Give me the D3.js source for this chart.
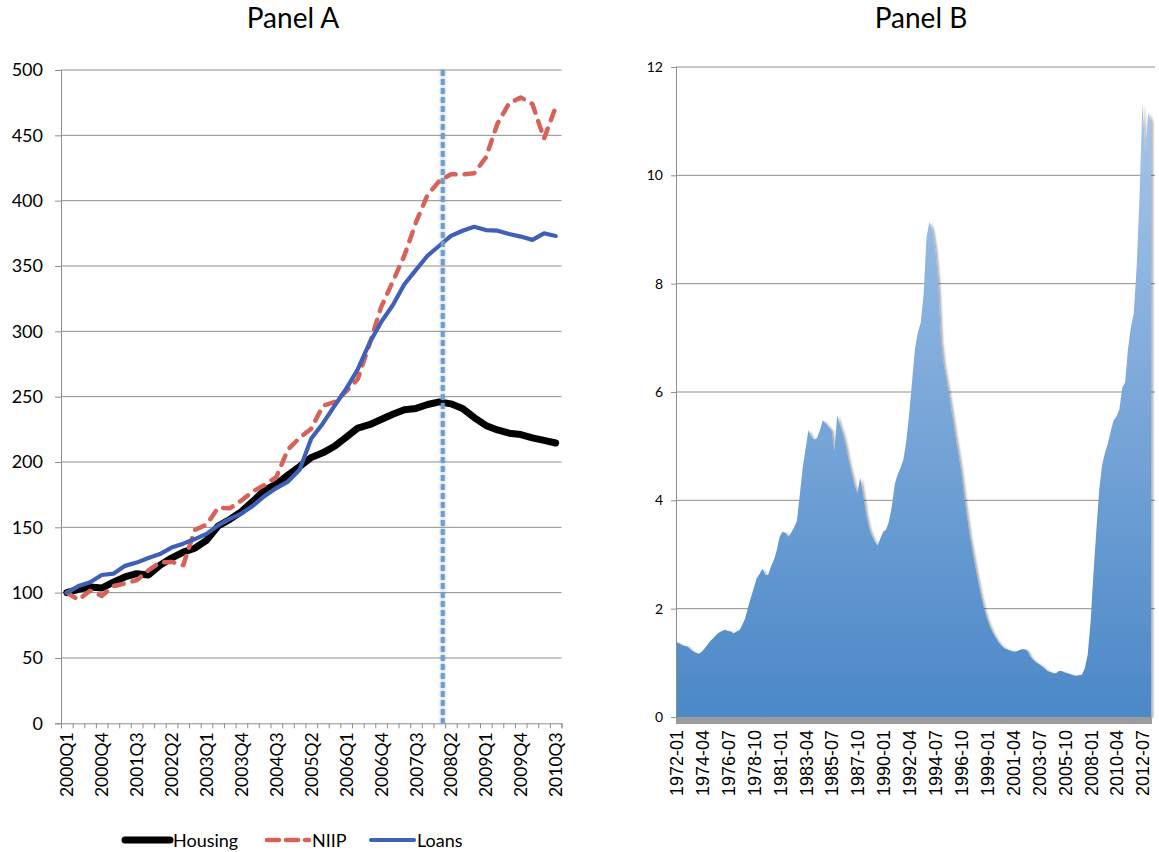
<!DOCTYPE html>
<html>
<head>
<meta charset="utf-8">
<script src="https://cdn.jsdelivr.net/npm/d3@7"></script>
<style>
  html, body { margin: 0; padding: 0; background: #fff; }
  svg { display: block; }
</style>
</head>
<body>
<svg id="chart" width="1159" height="852"></svg>
<script>
// ---------- Panel A: quarterly indices, 2000Q1 = 100 ----------
const quarters = [
  "2000Q1","2000Q2","2000Q3","2000Q4","2001Q1","2001Q2","2001Q3","2001Q4",
  "2002Q1","2002Q2","2002Q3","2002Q4","2003Q1","2003Q2","2003Q3","2003Q4",
  "2004Q1","2004Q2","2004Q3","2004Q4","2005Q1","2005Q2","2005Q3","2005Q4",
  "2006Q1","2006Q2","2006Q3","2006Q4","2007Q1","2007Q2","2007Q3","2007Q4",
  "2008Q1","2008Q2","2008Q3","2008Q4","2009Q1","2009Q2","2009Q3","2009Q4",
  "2010Q1","2010Q2","2010Q3"
];
const quarterTickLabels = [
  "2000Q1","2000Q4","2001Q3","2002Q2","2003Q1","2003Q4","2004Q3","2005Q2",
  "2006Q1","2006Q4","2007Q3","2008Q2","2009Q1","2009Q4","2010Q3"
];
const housing = [
  100, 102.5, 104.3, 103.5, 108, 112, 114.5, 113.5, 121, 126.5, 131, 134,
  140, 151, 156, 162, 170, 178.5, 183, 190, 196.5, 203.5, 207, 212,
  219, 226, 228.5, 232.5, 236.5, 240, 241, 244, 246, 244.5, 241, 234,
  228, 224.5, 222, 221, 218.5, 216.5, 214.5
];
const niip = [
  100, 94.5, 101.5, 97.5, 105, 107, 109.5, 117, 123, 123.5, 121, 148,
  152, 165, 164.5, 170.5, 177.5, 182.5, 188.5, 209.5, 218.5, 225.5, 243, 246,
  254, 263.5, 290, 318.5, 338, 358, 383.5, 404.5, 415, 420.2, 420, 421,
  433, 459, 474.5, 479, 474, 447.5, 471.5
];
const loans = [
  100, 105, 108, 113.5, 114.5, 120.5, 123, 126.5, 129.5, 134.5, 137.5, 141,
  145, 151.5, 156.5, 160.5, 166.5, 174, 180, 185, 194, 218, 229.5, 243,
  256, 271, 291, 307, 320, 336, 347, 358, 365.5, 373, 377, 380,
  377.5, 377, 374.5, 372.5, 370, 375, 373
];
const panelAYTicks = [0, 50, 100, 150, 200, 250, 300, 350, 400, 450, 500];
// vertical marker, in quarters counted from 2000Q1
const markerQuarter = 32.3;

// ---------- Panel B: series sampled every 3 months from 1972-01 ----------
const panelBStartYear = 1972;
const panelBMonthStep = 3;
const panelBMonthCount = 497;
const panelBValues = [
  1.39, 1.36, 1.33, 1.31, 1.30, 1.25, 1.21, 1.18, 1.17, 1.21, 1.27, 1.34,
  1.41, 1.46, 1.52, 1.56, 1.59, 1.61, 1.59, 1.58, 1.54, 1.58, 1.60, 1.70,
  1.82, 2.02, 2.20, 2.38, 2.56, 2.64, 2.74, 2.62, 2.62, 2.78, 2.90, 3.08,
  3.33, 3.42, 3.40, 3.33, 3.40, 3.50, 3.62, 4.10, 4.60, 4.95, 5.30, 5.18,
  5.12, 5.15, 5.30, 5.48, 5.42, 5.36, 5.30, 4.90, 5.57, 5.38, 5.22, 5.00,
  4.72, 4.50, 4.28, 4.13, 4.42, 4.10, 3.75, 3.50, 3.35, 3.24, 3.16, 3.30,
  3.42, 3.46, 3.62, 3.90, 4.30, 4.48, 4.60, 4.76, 5.10, 5.60, 6.20, 6.80,
  7.10, 7.28, 7.80, 8.85, 9.14, 8.99, 8.65, 8.05, 6.95, 6.50, 6.20, 5.90,
  5.55, 5.20, 4.88, 4.55, 4.12, 3.72, 3.35, 3.05, 2.75, 2.48, 2.22, 2.00,
  1.82, 1.67, 1.56, 1.47, 1.38, 1.32, 1.27, 1.25, 1.23, 1.21, 1.21, 1.23,
  1.25, 1.25, 1.23, 1.12, 1.06, 1.01, 0.98, 0.94, 0.90, 0.85, 0.83, 0.81,
  0.81, 0.85, 0.85, 0.82, 0.81, 0.79, 0.77, 0.76, 0.77, 0.78, 0.90, 1.15,
  1.75, 2.65, 3.45, 4.20, 4.65, 4.88, 5.05, 5.28, 5.48, 5.55, 5.68, 6.08,
  6.18, 6.80, 7.20, 7.45, 8.30, 9.60, 11.33, 10.45, 11.15, 11.00
];
const panelBYTicks = [0, 2, 4, 6, 8, 10, 12];
const panelBTickLabels = [
  "1972-01","1974-04","1976-07","1978-10","1981-01","1983-04","1985-07",
  "1987-10","1990-01","1992-04","1994-07","1996-10","1999-01","2001-04",
  "2003-07","2005-10","2008-01","2010-04","2012-07"
];

// ---------- shared styling ----------
const labelFont = "Lato, 'Open Sans', sans-serif";
const gridColor = "#8e8e8e";
const colors = { housing: "#000000", niip: "#d6625a", loans: "#4060b8", marker: "#6ca0d4" };

const svg = d3.select("#chart");
const defs = svg.append("defs");

// soft halo for the vertical marker (user-space region: the line has no width)
const glow = defs.append("filter").attr("id", "markerGlow")
  .attr("filterUnits", "userSpaceOnUse")
  .attr("x", 420).attr("y", 60).attr("width", 50).attr("height", 680);
glow.append("feGaussianBlur").attr("in", "SourceAlpha").attr("stdDeviation", 1.8).attr("result", "b");
glow.append("feFlood").attr("flood-color", "#777").attr("flood-opacity", 0.6);
glow.append("feComposite").attr("in2", "b").attr("operator", "in").attr("result", "s");
const gm = glow.append("feMerge");
gm.append("feMergeNode").attr("in", "s");
gm.append("feMergeNode").attr("in", "SourceGraphic");

// ================= Panel A =================
const A = { left: 61, right: 561.5, top: 70, bottom: 723.3 };
const xA = d3.scaleLinear().domain([-0.5, quarters.length - 0.5]).range([A.left, A.right]);
const yA = d3.scaleLinear().domain([0, 500]).range([A.bottom, A.top]);
const gA = svg.append("g");

gA.append("text").attr("x", 293).attr("y", 21)
  .attr("text-anchor", "middle").attr("dominant-baseline", "middle")
  .style("font-family", labelFont).style("font-size", "28px").text("Panel A");

// gridlines
gA.append("g").selectAll("line").data(panelAYTicks.filter(v => v > 0)).join("line")
  .attr("x1", A.left).attr("x2", A.right)
  .attr("y1", d => yA(d)).attr("y2", d => yA(d))
  .attr("stroke", gridColor).attr("stroke-width", 1);

// y axis
const yAxisA = gA.append("g").attr("transform", `translate(${A.left},0)`)
  .call(d3.axisLeft(yA).tickValues(panelAYTicks).tickSize(6).tickPadding(12).tickFormat(d3.format("d")));
yAxisA.select(".domain").attr("stroke", gridColor);
yAxisA.selectAll(".tick line").attr("stroke", gridColor);
yAxisA.selectAll(".tick text").style("font-family", labelFont).style("font-size", "18px").attr("fill", "#000");

// x axis: a tick at every category boundary
const boundaries = d3.range(quarters.length + 1).map(i => i - 0.5);
const xAxisA = gA.append("g").attr("transform", `translate(0,${A.bottom})`)
  .call(d3.axisBottom(xA).tickValues(boundaries).tickSize(5).tickFormat(""));
xAxisA.select(".domain").attr("stroke", gridColor);
xAxisA.selectAll(".tick line").attr("stroke", gridColor);

gA.append("g").selectAll("text").data(quarterTickLabels).join("text")
  .attr("transform", d => `translate(${xA(quarters.indexOf(d))},${A.bottom + 9}) rotate(-90)`)
  .attr("text-anchor", "end").attr("dominant-baseline", "central")
  .style("font-family", labelFont).style("font-size", "17.5px").text(d => d);

// series
const lineA = d3.line().x((d, i) => xA(i)).y(d => yA(d));
const seriesA = [
  { name: "Housing", values: housing, color: colors.housing, width: 7, dash: null },
  { name: "NIIP", values: niip, color: colors.niip, width: 4.5, dash: "10,9" },
  { name: "Loans", values: loans, color: colors.loans, width: 4.2, dash: null }
];
seriesA.forEach(s => {
  gA.append("path").datum(s.values).attr("d", lineA)
    .attr("fill", "none").attr("stroke", s.color).attr("stroke-width", s.width)
    .attr("stroke-linejoin", "round").attr("stroke-linecap", "round")
    .attr("stroke-dasharray", s.dash);
});

// vertical marker
gA.append("line")
  .attr("x1", xA(markerQuarter)).attr("x2", xA(markerQuarter))
  .attr("y1", A.top).attr("y2", A.bottom)
  .attr("stroke", colors.marker).attr("stroke-width", 4)
  .attr("stroke-dasharray", "6,3").attr("filter", "url(#markerGlow)");

// legend
const legendA = gA.append("g").attr("transform", "translate(0,840)");
const legendItems = [
  { s: seriesA[0], x0: 125, x1: 170 },
  { s: seriesA[1], x0: 267, x1: 309 },
  { s: seriesA[2], x0: 371, x1: 414 }
];
legendItems.forEach(it => {
  legendA.append("line").attr("x1", it.x0).attr("x2", it.x1).attr("y1", 0).attr("y2", 0)
    .attr("stroke", it.s.color).attr("stroke-width", it.s.width)
    .attr("stroke-linecap", "round").attr("stroke-dasharray", it.s.dash ? "12,7" : null);
  legendA.append("text").attr("x", it.x1 + 3).attr("y", 0).attr("dominant-baseline", "central")
    .style("font-family", labelFont).style("font-size", "18px").text(it.s.name);
});

// ================= Panel B =================
const B = { left: 676, right: 1152, gridRight: 1155, top: 67, bottom: 717 };
const xB = d3.scaleLinear().domain([0, panelBMonthCount - 1]).range([B.left, B.right]);
const yB = d3.scaleLinear().domain([0, 12]).range([B.bottom, B.top]);
const gB = svg.append("g");

gB.append("text").attr("x", 921).attr("y", 21)
  .attr("text-anchor", "middle").attr("dominant-baseline", "middle")
  .style("font-family", labelFont).style("font-size", "28px").text("Panel B");

const grad = defs.append("linearGradient").attr("id", "areaFill")
  .attr("gradientUnits", "userSpaceOnUse")
  .attr("x1", 0).attr("x2", 0).attr("y1", yB(12)).attr("y2", yB(0));
grad.append("stop").attr("offset", "0%").attr("stop-color", "#adc9ec");
grad.append("stop").attr("offset", "100%").attr("stop-color", "#4b88c7");

const shadow = defs.append("filter").attr("id", "areaShadow")
  .attr("x", "-5%").attr("y", "-5%").attr("width", "110%").attr("height", "110%");
shadow.append("feDropShadow").attr("dx", 2).attr("dy", 1).attr("stdDeviation", 1.2)
  .attr("flood-color", "#000").attr("flood-opacity", 0.35);

// gridlines
gB.append("g").selectAll("line").data(panelBYTicks.filter(v => v > 0)).join("line")
  .attr("x1", B.left).attr("x2", B.gridRight)
  .attr("y1", d => yB(d)).attr("y2", d => yB(d))
  .attr("stroke", gridColor).attr("stroke-width", 1);

// area
const areaB = d3.area()
  .x((d, i) => xB(i * panelBMonthStep))
  .y0(yB(0)).y1(d => yB(d));
gB.append("path").datum(panelBValues).attr("d", areaB)
  .attr("fill", "url(#areaFill)").attr("filter", "url(#areaShadow)");

// grey base strip beneath the area
gB.append("rect").attr("x", B.left).attr("y", yB(0))
  .attr("width", B.right - B.left).attr("height", 7).attr("fill", "#9b9b9b");

// y axis
const yAxisB = gB.append("g").attr("transform", `translate(${B.left},0)`)
  .call(d3.axisLeft(yB).tickValues(panelBYTicks).tickSize(5).tickPadding(8));
yAxisB.select(".domain").attr("stroke", gridColor);
yAxisB.selectAll(".tick line").attr("stroke", gridColor);
yAxisB.selectAll(".tick text").style("font-family", labelFont).style("font-size", "14px").attr("fill", "#000");

// x labels
const monthIndex = s => (+s.slice(0, 4) - panelBStartYear) * 12 + (+s.slice(5, 7) - 1);
gB.append("g").selectAll("text").data(panelBTickLabels).join("text")
  .attr("transform", d => `translate(${xB(monthIndex(d)) + 1},${B.bottom + 13}) rotate(-90)`)
  .attr("text-anchor", "end").attr("dominant-baseline", "central")
  .style("font-family", "'Liberation Sans', Arial, sans-serif").style("font-size", "18px")
  .text(d => d);
</script>
</body>
</html>
